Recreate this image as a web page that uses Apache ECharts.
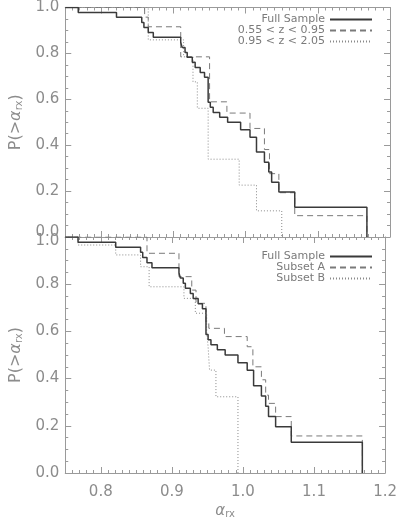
<!DOCTYPE html>
<html><head><meta charset="utf-8">
<script src="https://cdn.jsdelivr.net/npm/echarts@6/dist/echarts.min.js"></script>
<style>html,body{margin:0;padding:0;background:#fff}#c{width:400px;height:522px}</style>
</head><body><div id="c"></div>
<script>
// ---- data ----
const xRange = [0.75, 1.2];
const yTicks = [0.0, 0.2, 0.4, 0.6, 0.8, 1.0];

// Full sample (both panels)
const fullX = [0.750, 0.768, 0.821, 0.856, 0.859, 0.865, 0.872, 0.910, 0.912, 0.916, 0.919, 0.926, 0.930, 0.937, 0.943, 0.948, 0.951, 0.955, 0.964, 0.975, 0.993, 1.006, 1.015, 1.026, 1.032, 1.036, 1.046, 1.068, 1.168];
const fullY = [1.000, 0.978, 0.957, 0.935, 0.913, 0.891, 0.870, 0.848, 0.826, 0.804, 0.783, 0.761, 0.739, 0.717, 0.696, 0.587, 0.565, 0.543, 0.522, 0.500, 0.467, 0.435, 0.370, 0.326, 0.283, 0.239, 0.196, 0.130, 0.000];

// 0.55 < z < 0.95 (top, dashed)
const zLowX = [0.750, 0.860, 0.865, 0.910, 0.950, 0.974, 1.006, 1.026, 1.033, 1.046, 1.068, 1.168];
const zLowY = [1.000, 0.958, 0.916, 0.785, 0.589, 0.540, 0.473, 0.381, 0.276, 0.193, 0.093, 0.000];

// 0.95 < z < 2.05 (top, dotted)
const zHighX = [0.750, 0.865, 0.914, 0.927, 0.933, 0.948, 0.991, 1.015, 1.050];
const zHighY = [1.000, 0.859, 0.785, 0.676, 0.561, 0.339, 0.226, 0.114, 0.000];

// Subset A (bottom, dashed)
const subAX = [0.750, 0.865, 0.910, 0.928, 0.934, 0.948, 0.952, 0.974, 1.006, 1.014, 1.026, 1.032, 1.036, 1.046, 1.068, 1.168];
const subAY = [1.000, 0.931, 0.832, 0.775, 0.719, 0.640, 0.613, 0.578, 0.535, 0.450, 0.395, 0.330, 0.295, 0.239, 0.157, 0.000];

// Subset B (bottom, dotted)
const subBX = [0.750, 0.768, 0.821, 0.856, 0.868, 0.917, 0.933, 0.949, 0.951, 0.953, 0.962, 0.993];
const subBY = [1.000, 0.966, 0.924, 0.874, 0.789, 0.740, 0.677, 0.600, 0.535, 0.436, 0.323, 0.000];

const topNames = ['Full Sample', '0.55 < z < 0.95', '0.95 < z < 2.05'];
const botNames = ['Full Sample', 'Subset A', 'Subset B'];

// ---- styling ----
const AX = '#9a9a9a';
const TXT = '#8c8c8c';
const FONT = 'DejaVu Sans';
const pairs = (xs, ys) => xs.map((x, i) => [x, ys[i]]);
const LBL = { color: TXT, fontSize: 15, fontFamily: FONT };

function xMajor(grid, pos, labels) {
  const a = {
    type: 'value', gridIndex: grid, position: pos, min: xRange[0], max: xRange[1], splitNumber: 5,
    axisLine: { show: true, onZero: false, lineStyle: { color: AX, width: 1 } },
    axisTick: { show: true, inside: true, length: 6, lineStyle: { color: AX } },
    axisLabel: Object.assign({ show: labels, showMinLabel: false, margin: 12,
      formatter: v => v.toFixed(1) }, LBL),
    splitLine: { show: false }
  };
  if (labels) {
    a.name = '{a|α}{s|rx}';
    a.nameLocation = 'middle';
    a.nameGap = 30;
    a.nameTextStyle = { rich: {
      a: { fontSize: 15, fontStyle: 'italic', color: TXT, fontFamily: FONT },
      s: { fontSize: 10, color: TXT, fontFamily: FONT, verticalAlign: 'bottom', padding: [6, 0, 0, 0] } } };
  }
  return a;
}
function xMinor(grid, pos) {
  return {
    type: 'value', gridIndex: grid, position: pos, min: xRange[0], max: xRange[1], interval: 0.01,
    axisLine: { show: false, onZero: false },
    axisTick: { show: true, inside: true, length: 3, lineStyle: { color: AX } },
    axisLabel: { show: false }, splitLine: { show: false }
  };
}
function yAx(grid, pos, labels, shiftVal, shiftKey) {
  const a = {
    type: 'value', gridIndex: grid, position: pos, min: 0, max: 1, interval: 0.2,
    axisLine: { show: true, onZero: false, lineStyle: { color: AX, width: 1 } },
    axisTick: { show: true, inside: true, length: 6, lineStyle: { color: AX } },
    minorTick: { show: true, splitNumber: 4, length: 3, lineStyle: { color: AX } },
    axisLabel: Object.assign({ show: labels, margin: 6,
      formatter: v => (Math.abs(v - shiftVal) < 1e-9 ? '{' + shiftKey + '|' + v.toFixed(1) + '}' : v.toFixed(1)),
      rich: {
        lo: Object.assign({ padding: [0, 0, 9, 0] }, LBL),
        hi: Object.assign({ padding: [9, 0, 0, 0] }, LBL)
      } }, LBL),
    splitLine: { show: false }
  };
  if (labels) {
    a.name = '{n|P(>}{a|α}{s|rx}{n|)}';
    a.nameLocation = 'middle';
    a.nameGap = 38;
    a.nameTextStyle = { rich: {
      n: { fontSize: 16, color: TXT, fontFamily: FONT },
      a: { fontSize: 16, fontStyle: 'italic', color: TXT, fontFamily: FONT },
      s: { fontSize: 10, color: TXT, fontFamily: FONT, verticalAlign: 'bottom', padding: [7, 0, 0, 0] } } };
  }
  return a;
}

const SOLID = { color: '#3a3a3a', width: 1.5, type: 'solid' };
const DASH = { color: '#7a7a7a', width: 1, type: [6, 4] };
const DOT = { color: '#8a8a8a', width: 1, type: [1, 2] };

function stepSeries(name, xi, yi, data, ls, z) {
  return { type: 'line', name, xAxisIndex: xi, yAxisIndex: yi, data, step: 'end',
    showSymbol: false, symbol: 'none', lineStyle: ls, itemStyle: { color: ls.color },
    z, animation: false, clip: true };
}

function legendItem(name, top) {
  return { data: [name], orient: 'horizontal', right: 27, top, align: 'right', padding: 0,
    itemWidth: 42, itemHeight: 10, selectedMode: false,
    itemStyle: { color: 'rgba(0,0,0,0)', borderWidth: 0, opacity: 0 },
    textStyle: { color: '#7a7a7a', fontSize: 11, fontFamily: FONT, padding: [0, 0, 0, 0] } };
}

const option = {
  backgroundColor: '#fff',
  animation: false,
  grid: [
    { left: 57, right: 10, top: 0, height: 237 },
    { left: 57, right: 10, top: 237, height: 236 }
  ],
  xAxis: [
    xMajor(0, 'bottom', false), xMajor(0, 'top', false), xMinor(0, 'bottom'), xMinor(0, 'top'),
    xMajor(1, 'bottom', true), xMajor(1, 'top', false), xMinor(1, 'bottom'), xMinor(1, 'top')
  ],
  yAxis: [
    yAx(0, 'left', true, 0, 'lo'), yAx(0, 'right', false, -1, 'lo'),
    yAx(1, 'left', true, 1, 'hi'), yAx(1, 'right', false, -1, 'hi')
  ],
  legend: [
    legendItem(topNames[0], 14), legendItem(topNames[1], 25), legendItem(topNames[2], 36),
    legendItem(botNames[0], 251), legendItem(botNames[1], 262), legendItem(botNames[2], 273)
  ],
  series: [
    stepSeries(topNames[1], 0, 0, pairs(zLowX, zLowY), DASH, 2),
    stepSeries(topNames[2], 0, 0, pairs(zHighX, zHighY), DOT, 2),
    stepSeries(topNames[0], 0, 0, pairs(fullX, fullY), SOLID, 3),
    stepSeries(botNames[1], 4, 2, pairs(subAX, subAY), DASH, 2),
    stepSeries(botNames[2], 4, 2, pairs(subBX, subBY), DOT, 2),
    stepSeries(botNames[0], 4, 2, pairs(fullX, fullY), SOLID, 3)
  ]
};
const chart = echarts.init(document.getElementById('c'), null, { renderer: 'canvas' });
chart.setOption(option);
</script></body></html>
